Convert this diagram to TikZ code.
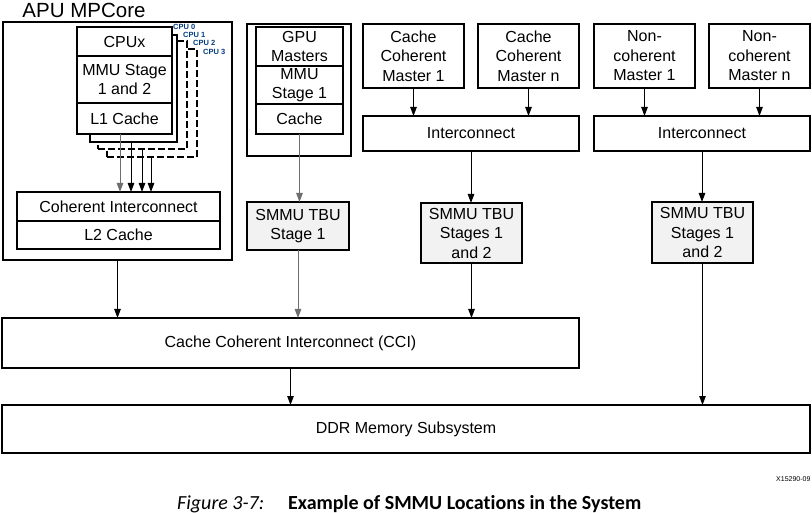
\documentclass[tikz,border=0pt]{standalone}
\usepackage{fontspec}
\setmainfont{Liberation Sans}
\newfontfamily\capfont[Ligatures=NoCommon]{Carlito}
\usepackage{xcolor}
\usetikzlibrary{arrows.meta,positioning}

\definecolor{tbugray}{RGB}{242,242,242}
\definecolor{linkgray}{RGB}{110,110,110}
\definecolor{cpublue}{RGB}{0,60,130}

\begin{document}
\begin{tikzpicture}[
    x=1pt, y=-1pt,
    box/.style={rectangle, draw, line width=2pt, fill=white, inner sep=0pt, outer sep=0pt, anchor=north west, align=center, font=\fontsize{16}{19.5}\selectfont},
    tbu/.style={box, fill=tbugray},
    stackbox/.style={box, dash pattern=on 7pt off 3pt},
    cpulbl/.style={anchor=west, inner sep=0pt, text=cpublue, font=\fontsize{7.5}{8}\selectfont\bfseries},
    arrow/.style={-{Triangle[width=6.5pt,length=9pt]}, line width=1pt},
    grayarrow/.style={arrow, draw=linkgray, fill=linkgray}
]
    \useasboundingbox (0,0) rectangle (812,513);

    % APU MPCore
    \node[box, minimum width=229pt, minimum height=238pt] (apu) at (3,22) {};
    \node[font=\fontsize{20.5}{24}\selectfont, inner sep=0pt] (apulbl) at (84,10) {APU MPCore};

    % CPU stack, back to front
    \node[stackbox, minimum width=90pt, minimum height=108pt] (cpu3) at (107,49) {};
    \node[stackbox, minimum width=89pt, minimum height=108pt] (cpu2) at (98,41) {};
    \node[box, minimum width=87pt, minimum height=107pt] (cpu1) at (90,35) {};
    \node[box, minimum width=95pt, minimum height=29pt] (cpux) at (77,27) {CPUx};
    \node[box, minimum width=95pt, minimum height=47pt] (mmu) at (77,56) {MMU Stage\\1 and 2};
    \node[box, minimum width=95pt, minimum height=31pt] (l1) at (77,103) {L1 Cache};

    \node[cpulbl] (c0lbl) at (173,27) {CPU 0};
    \node[cpulbl] (c1lbl) at (183,35) {CPU 1};
    \node[cpulbl] (c2lbl) at (193,43) {CPU 2};
    \node[cpulbl] (c3lbl) at (203,52) {CPU 3};

    \node[box, minimum width=203pt, minimum height=29pt] (coh) at (17,192) {Coherent Interconnect};
    \node[box, minimum width=203pt, minimum height=28pt] (l2) at (17,221) {L2 Cache};

    % GPU
    \node[box, minimum width=104pt, minimum height=132pt] (gpu) at (247,24) {};
    \node[box, minimum width=87pt, minimum height=39pt] (gpum) at (256,27) {GPU\\Masters};
    \node[box, minimum width=87pt, minimum height=38pt] (gmmu) at (256,66) {MMU\\Stage 1};
    \node[box, minimum width=87pt, minimum height=30pt] (gcache) at (256,104) {Cache};
    \node[tbu, minimum width=102pt, minimum height=48pt] (tbu1) at (247,202) {SMMU TBU\\Stage 1};

    % Cache coherent masters
    \node[box, minimum width=101pt, minimum height=64pt] (ccm1) at (363,24) {Cache\\Coherent\\Master 1};
    \node[box, minimum width=101pt, minimum height=64pt] (ccmn) at (478,24) {Cache\\Coherent\\Master n};
    \node[box, minimum width=216pt, minimum height=35pt] (icl) at (363,116) {Interconnect};
    \node[tbu, minimum width=101pt, minimum height=60pt] (tbu2) at (421,203) {SMMU TBU\\Stages 1\\and 2};

    % Non-coherent masters
    \node[box, minimum width=101pt, minimum height=64pt] (ncm1) at (594,24) {Non-\\coherent\\Master 1};
    \node[box, minimum width=101pt, minimum height=64pt] (ncmn) at (709,24) {Non-\\coherent\\Master n};
    \node[box, minimum width=216pt, minimum height=35pt] (icr) at (594,116) {Interconnect};
    \node[tbu, minimum width=101pt, minimum height=61pt] (tbu3) at (652,202) {SMMU TBU\\Stages 1\\and 2};

    % Memory side
    \node[box, minimum width=577pt, minimum height=50pt] (cci) at (2,318) {Cache Coherent Interconnect (CCI)};
    \node[box, minimum width=808pt, minimum height=48pt] (ddr) at (2,405) {DDR Memory Subsystem};

    % Caption
    \node[anchor=base west, inner sep=0pt, font=\fontsize{7}{8}\selectfont] (figid) at (776,481) {X15290-09};
    \node[anchor=base west, inner sep=0pt, font=\capfont\fontsize{20}{22}\selectfont\itshape] (capnum) at (177,509) {Figure 3-7:};
    \node[anchor=base west, inner sep=0pt, font=\capfont\fontsize{20}{22}\selectfont\bfseries] (captxt) at (288,509) {Example of SMMU Locations in the System};

    % Arrows
    \coordinate (a0) at (120,0);
    \coordinate (a1) at (131,0);
    \coordinate (a2) at (142,0);
    \coordinate (a3) at (151,0);
    \draw[grayarrow] (a0 |- l1.south) -- (a0 |- coh.north);
    \draw[arrow] (a1 |- cpu1.south) -- (a1 |- coh.north);
    \draw[arrow] (a2 |- cpu2.south) -- (a2 |- coh.north);
    \draw[arrow] (a3 |- cpu3.south) -- (a3 |- coh.north);

    \draw[grayarrow] (gcache.south) -- (gcache.south |- tbu1.north);
    \draw[arrow] (ccm1.south) -- (ccm1.south |- icl.north);
    \draw[arrow] (ccmn.south) -- (ccmn.south |- icl.north);
    \draw[arrow] (icl.south) -- (icl.south |- tbu2.north);
    \draw[arrow] (ncm1.south) -- (ncm1.south |- icr.north);
    \draw[arrow] (ncmn.south) -- (ncmn.south |- icr.north);
    \draw[arrow] (icr.south) -- (icr.south |- tbu3.north);

    \draw[arrow] (apu.south) -- (apu.south |- cci.north);
    \draw[grayarrow] (tbu1.south) -- (tbu1.south |- cci.north);
    \draw[arrow] (tbu2.south) -- (tbu2.south |- cci.north);
    \draw[arrow] (cci.south) -- (cci.south |- ddr.north);
    \draw[arrow] (tbu3.south) -- (tbu3.south |- ddr.north);
\end{tikzpicture}
\end{document}
